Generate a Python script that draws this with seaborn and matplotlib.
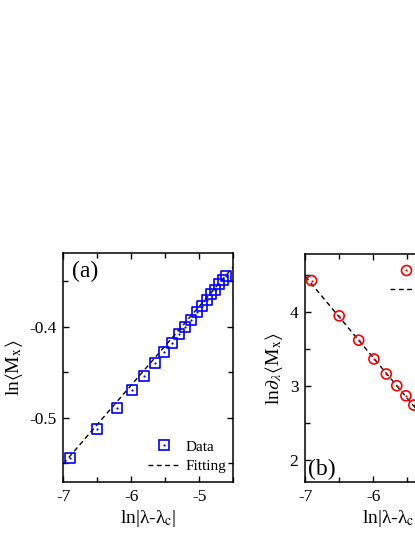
import matplotlib
matplotlib.use('Agg')
import matplotlib.pyplot as plt
import seaborn as sns
import pandas as pd
from matplotlib.ticker import MultipleLocator
from matplotlib.legend_handler import HandlerTuple
from matplotlib.lines import Line2D

# ---- data ----
x_a = [-6.908, -6.502, -6.215, -5.991, -5.809, -5.655, -5.521, -5.404, -5.298, -5.203,
       -5.116, -5.036, -4.962, -4.893, -4.828, -4.768, -4.711, -4.656, -4.605]
y_a = [-0.545, -0.513, -0.489, -0.470, -0.454, -0.440, -0.428, -0.418, -0.408, -0.400,
       -0.392, -0.384, -0.377, -0.370, -0.364, -0.359, -0.353, -0.348, -0.344]
fit_x_a = [-7.0, -4.5]
fit_y_a = [-0.551, -0.334]

x_b = [-6.908, -6.502, -6.215, -5.991, -5.809, -5.655, -5.521, -5.404]
y_b = [4.430, 3.953, 3.623, 3.369, 3.166, 3.007, 2.871, 2.745]
fit_x_b = [-7.0, -4.5]
fit_y_b = [4.486, 1.736]

xticks = [-7, -6, -5]
yticks_a = [-0.5, -0.4]
yticks_b = [2, 3, 4]

sns.set_theme(style='ticks')
plt.rcParams['font.family'] = ['Liberation Serif', 'DejaVu Serif']
plt.rcParams['mathtext.fontset'] = 'stix'
plt.rcParams['axes.unicode_minus'] = False
for key in ['text.color', 'axes.labelcolor', 'xtick.color', 'ytick.color',
            'xtick.labelcolor', 'ytick.labelcolor', 'axes.edgecolor']:
    plt.rcParams[key] = 'black'

fig = plt.figure(figsize=(4.15, 5.37), dpi=100)
ax_a = fig.add_axes([0.1525, 0.1024, 0.4096, 0.4259])
ax_b = fig.add_axes([0.7357, 0.1019, 0.4096, 0.4251])


def draw(ax, xs, ys, fx, fy, marker, color):
    df = pd.DataFrame({'x': xs, 'y': ys})
    sns.scatterplot(data=df, x='x', y='y', marker=marker, s=52, color=color,
                    linewidth=1.2, ax=ax, zorder=3)
    coll = ax.collections[-1]
    coll.set_facecolor('none')
    coll.set_edgecolor(color)
    sns.scatterplot(data=df, x='x', y='y', marker='o', s=2.5, color=color,
                    linewidth=0, ax=ax, zorder=4)
    dff = pd.DataFrame({'x': fx, 'y': fy})
    sns.lineplot(data=dff, x='x', y='y', color='black', linewidth=1.0,
                 dashes=False, ax=ax, zorder=2, sort=False)
    ax.lines[-1].set_dashes((3.5, 2.5))
    h_data = (Line2D([], [], marker=marker, ms=7.2, mfc='none', mec=color, mew=1.2, ls='none'),
              Line2D([], [], marker='o', ms=1.6, mfc=color, mec=color, mew=0, ls='none'))
    h_fit = Line2D([], [], color='black', lw=1.0, dashes=(3.5, 2.5))
    return h_data, h_fit


def style(ax):
    ax.set_xlim(-7, -4.5)
    ax.set_xticks(xticks)
    ax.xaxis.set_minor_locator(MultipleLocator(0.5))
    ax.tick_params(which='both', direction='in', top=True, right=True,
                   width=1.0, labelsize=12.5, color='black', labelcolor='black', pad=5)
    ax.tick_params(which='major', length=4.5)
    ax.tick_params(which='minor', length=3.5)
    for sp in ax.spines.values():
        sp.set_linewidth(1.1)
        sp.set_color('black')
        sp.set_visible(True)
    ax.set_xlabel('ln|λ-λ$_{\\mathrm{c}}$|', fontsize=14, labelpad=2, color='black')


hd, hf = draw(ax_a, x_a, y_a, fit_x_a, fit_y_a, 's', '#0000FF')
style(ax_a)
ax_a.set_ylim(-0.571, -0.319)
ax_a.set_yticks(yticks_a)
ax_a.set_yticklabels(['-0.5', '-0.4'])
ax_a.yaxis.set_minor_locator(MultipleLocator(0.05))
ax_a.set_xticklabels(['-7', '-6', '-5'])
ax_a.set_ylabel(r'ln$\langle$M$_{\mathrm{x}}\rangle$', fontsize=14, labelpad=3, color='black')
leg = ax_a.legend([hd, hf], ['Data', 'Fitting'], handler_map={tuple: HandlerTuple(ndivide=1)},
                  loc='lower left', bbox_to_anchor=(0.496, 0.04), frameon=False,
                  fontsize=11, borderpad=0, borderaxespad=0, handlelength=2.1,
                  handletextpad=0.4, labelspacing=0.35, labelcolor='black')
ax_a.text(0.05, 0.965, '(a)', transform=ax_a.transAxes, fontsize=17,
          ha='left', va='top', color='black')

hd, hf = draw(ax_b, x_b, y_b, fit_x_b, fit_y_b, 'o', '#FF0000')
style(ax_b)
ax_b.set_ylim(1.70, 4.79)
ax_b.set_yticks(yticks_b)
ax_b.set_yticklabels(['2', '3', '4'])
ax_b.yaxis.set_minor_locator(MultipleLocator(0.5))
ax_b.set_xticklabels(['-7', '-6', '-5'])
ax_b.set_ylabel(r'ln$\partial_{\lambda}\langle$M$_{\mathrm{x}}\rangle$', fontsize=14, labelpad=3, color='black')
ax_b.legend([hd, hf], ['Data', 'Fitting'], handler_map={tuple: HandlerTuple(ndivide=1)},
            loc='upper left', bbox_to_anchor=(0.496, 0.955), frameon=False,
            fontsize=11, borderpad=0, borderaxespad=0, handlelength=2.1,
            handletextpad=0.4, labelspacing=0.35, labelcolor='black')
ax_b.text(0.015, 0.01, '(b)', transform=ax_b.transAxes, fontsize=17,
          ha='left', va='bottom', color='black')

fig.savefig('out.png', dpi=100)
